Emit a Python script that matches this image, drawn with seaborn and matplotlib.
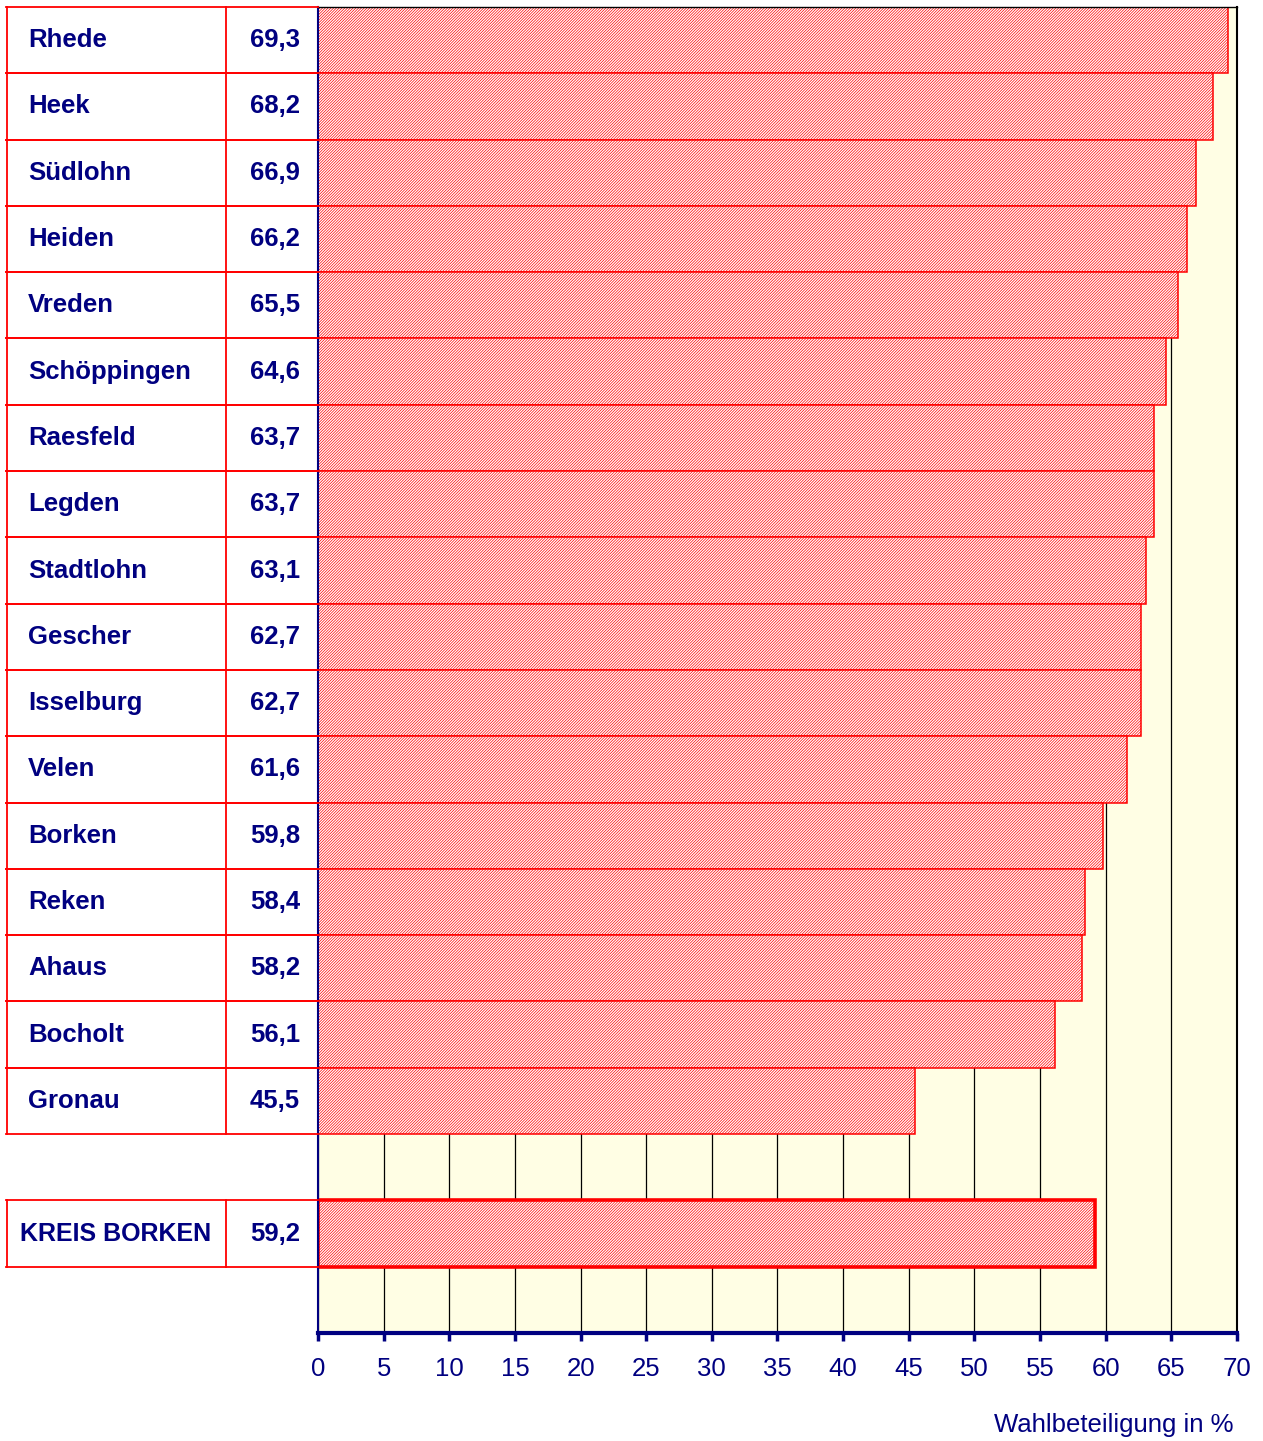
"""
Wahlbeteiligung in den Gemeinden des Kreises Borken - hatched bar chart with a side table.
"""

import numpy as np
import pandas as pd
import seaborn as sns
import matplotlib.pyplot as plt

# data
gemeinden = ["Rhede", "Heek", "Südlohn", "Heiden", "Vreden", "Schöppingen", "Raesfeld",
             "Legden", "Stadtlohn", "Gescher", "Isselburg", "Velen", "Borken", "Reken",
             "Ahaus", "Bocholt", "Gronau"]
beteiligung = [69.3, 68.2, 66.9, 66.2, 65.5, 64.6, 63.7, 63.7, 63.1, 62.7, 62.7, 61.6,
               59.8, 58.4, 58.2, 56.1, 45.5]
kreis_name = "KREIS BORKEN"
kreis_wert = 59.2
x_ticks = [0, 5, 10, 15, 20, 25, 30, 35, 40, 45, 50, 55, 60, 65, 70]
x_label = "Wahlbeteiligung in %"

NAVY = "#000080"
RED = "#ff0000"

plt.rcParams['font.family'] = ['Liberation Sans', 'DejaVu Sans']
plt.rcParams['hatch.linewidth'] = 0.5

df = pd.DataFrame({"name": gemeinden + [kreis_name],
                   "wert": beteiligung + [kreis_wert]})
# empty slots keep the gap rows of the original layout
order = gemeinden + [" ", kreis_name, "  "]


def fmt(v):
    return f"{v:.1f}".replace(".", ",")


fig = plt.figure(figsize=(12.63, 14.41), dpi=100)
W, H = 1263, 1441
left, right, top, bottom = 318 / W, 1237 / W, 1 - 7 / H, 1 - 1333 / H
ax = fig.add_axes([left, bottom, right - left, top - bottom])
ax.set_facecolor("#fffee4")

sns.barplot(data=df, x="wert", y="name", order=order, orient="h", width=1,
            color="white", saturation=1, edgecolor=RED, linewidth=1.1, ax=ax)

for p in ax.patches:
    p.set_hatch("////////////")
    p.set_edgecolor(RED)
# the district total gets a heavier outline
kreis_idx = order.index(kreis_name)
for p in ax.patches:
    if abs(p.get_y() + p.get_height() / 2 - kreis_idx) < 0.01:
        p.set_linewidth(2.6)

ax.set_xlim(0, 70)
ax.set_ylim(len(order) - 0.5, -0.5)
ax.set_xticks(x_ticks)
ax.set_xticklabels([str(t) for t in x_ticks], color=NAVY, fontsize=18.5)
ax.tick_params(axis="x", direction="out", length=6, width=2.5, color=NAVY, pad=11)
ax.set_yticks([])
ax.set_xlabel("")
ax.set_ylabel("")
ax.set_axisbelow(True)
ax.xaxis.grid(True, color="black", linewidth=0.9)

ax.spines["bottom"].set_color(NAVY)
ax.spines["bottom"].set_linewidth(3)
ax.spines["left"].set_color(NAVY)
ax.spines["left"].set_linewidth(1.5)
ax.spines["right"].set_color("black")
ax.spines["right"].set_linewidth(1.5)
ax.spines["top"].set_color("black")
ax.spines["top"].set_linewidth(1)

# side table with names and values, sharing the y scale
tab_left = 6 / W
tab = fig.add_axes([tab_left, bottom, left - tab_left, top - bottom], sharey=ax)
tab.set_xlim(0, 1)
tab.axis("off")
div = (226 - 6) / (318 - 6)
tab_rows = list(range(len(gemeinden))) + [kreis_idx]
names = gemeinden + [kreis_name]
vals = beteiligung + [kreis_wert]
for r, n, v in zip(tab_rows, names, vals):
    for yy in (r - 0.5, r + 0.5):
        tab.plot([0, 1], [yy, yy], color=RED, lw=1.3, clip_on=False)
    for xx in (0.002, div):
        tab.plot([xx, xx], [r - 0.5, r + 0.5], color=RED, lw=1.3, clip_on=False)
    if n == kreis_name:
        tab.text(div / 2, r, n, ha="center", va="center", color=NAVY,
                 fontsize=18, fontweight="bold")
    else:
        tab.text((28 - 6) / 312, r, n, ha="left", va="center", color=NAVY,
                 fontsize=18.5, fontweight="bold")
    tab.text((300 - 6) / 312, r, fmt(v), ha="right", va="center", color=NAVY,
             fontsize=18.5, fontweight="bold")

fig.text(1233 / W, 1 - 1425 / H, x_label, ha="right", va="center",
         color=NAVY, fontsize=18.5)

fig.savefig("out.png", dpi=100)
